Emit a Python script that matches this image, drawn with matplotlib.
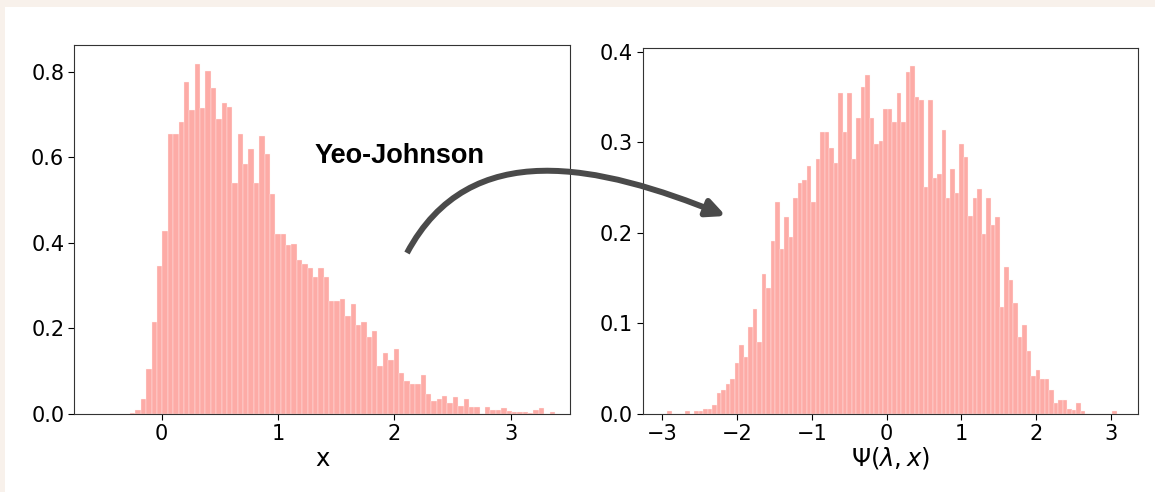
import numpy as np
import matplotlib
matplotlib.use('Agg')
import matplotlib.pyplot as plt
from matplotlib.patches import Rectangle, FancyArrowPatch
from matplotlib.path import Path

# left histogram: skewed x (density per bin), bins start at left_start
left_start = -0.270
left_width = 0.0462
left_density = [0.003, 0.009, 0.034, 0.104, 0.215, 0.345, 0.428, 0.654, 0.654, 0.683,
                0.775, 0.710, 0.818, 0.715, 0.801, 0.762, 0.689, 0.727, 0.717, 0.540,
                0.654, 0.583, 0.619, 0.540, 0.650, 0.607, 0.515, 0.420, 0.420, 0.394,
                0.398, 0.359, 0.350, 0.342, 0.320, 0.341, 0.320, 0.264, 0.264, 0.268,
                0.229, 0.258, 0.208, 0.216, 0.180, 0.194, 0.112, 0.143, 0.125, 0.152,
                0.095, 0.078, 0.069, 0.069, 0.091, 0.047, 0.030, 0.034, 0.043, 0.025,
                0.039, 0.018, 0.034, 0.017, 0.017, 0.000, 0.017, 0.010, 0.010, 0.013,
                0.008, 0.004, 0.004, 0.004, 0.002, 0.009, 0.014, 0.000, 0.004]

# right histogram: after Yeo-Johnson transform
right_start = -2.933
right_width = 0.0601
right_density = [0.003, 0.000, 0.000, 0.000, 0.003, 0.000, 0.003, 0.003,
                 0.005, 0.006, 0.010, 0.023, 0.026, 0.033, 0.039, 0.056, 0.076, 0.063,
                 0.096, 0.116, 0.079, 0.155, 0.139, 0.191, 0.234, 0.182, 0.218, 0.195,
                 0.238, 0.255, 0.258, 0.274, 0.234, 0.281, 0.311, 0.311, 0.294, 0.277,
                 0.354, 0.311, 0.354, 0.281, 0.327, 0.361, 0.374, 0.327, 0.298, 0.301,
                 0.337, 0.337, 0.322, 0.354, 0.322, 0.377, 0.384, 0.350, 0.347, 0.251,
                 0.347, 0.261, 0.265, 0.314, 0.238, 0.271, 0.244, 0.298, 0.284, 0.219,
                 0.238, 0.248, 0.199, 0.238, 0.209, 0.218, 0.118, 0.162, 0.148, 0.122,
                 0.085, 0.098, 0.069, 0.042, 0.049, 0.039, 0.039, 0.026, 0.012, 0.016,
                 0.016, 0.006, 0.004, 0.012, 0.003, 0.000, 0.000, 0.000, 0.000, 0.000,
                 0.000, 0.003]

left_xticks = [0, 1, 2, 3]
left_yticks = [0.0, 0.2, 0.4, 0.6, 0.8]
right_xticks = [-3, -2, -1, 0, 1, 2, 3]
right_yticks = [0.0, 0.1, 0.2, 0.3, 0.4]

W, H = 1155, 492
BAR = '#FDABA6'

fig = plt.figure(figsize=(W / 100, H / 100), dpi=100)
fig.patch.set_facecolor('#F8F1EB')
fig.add_artist(Rectangle((5 / W, 0), 1, (H - 7) / H, transform=fig.transFigure,
                         facecolor='white', edgecolor='none', zorder=-5))


def px_axes(x0, x1, y0, y1):
    # axes box given in image pixels (y from top)
    return fig.add_axes([x0 / W, (H - y1) / H, (x1 - x0) / W, (y1 - y0) / H])


def draw_hist(ax, start, width, dens):
    edges = start + width * np.arange(len(dens))
    ax.bar(edges, dens, width=width, align='edge', color=BAR,
           edgecolor='#FFF4F3', linewidth=0.25)


ax1 = px_axes(74, 570, 45, 414)
draw_hist(ax1, left_start, left_width, left_density)
ax1.set_xlim(-0.752, 3.509)
ax1.set_ylim(0, 0.862)
ax1.set_xticks(left_xticks)
ax1.set_yticks(left_yticks)
ax1.set_xlabel('x', fontsize=17.5, labelpad=2)

ax2 = px_axes(642.6, 1137.7, 48.3, 414)
draw_hist(ax2, right_start, right_width, right_density)
ax2.set_xlim(-3.263, 3.356)
ax2.set_ylim(0, 0.4037)
ax2.set_xticks(right_xticks)
ax2.set_yticks(right_yticks)
ax2.set_xlabel(r'$\Psi(\lambda, x)$', fontsize=17.5, labelpad=1)

for ax in (ax1, ax2):
    ax.tick_params(labelsize=15, length=4, pad=3)
    for s in ax.spines.values():
        s.set_color('#333333')

fig.text(314.5 / W, (H - 163) / H, 'Yeo-Johnson', fontsize=19.5, fontweight='bold',
         family='Liberation Sans', ha='left', va='baseline')

# curved arrow between the panels, in figure pixels
pts = [(407, 253), (470, 135), (600, 165), (726, 216)]
verts = [(x / W, (H - y) / H) for x, y in pts]
path = Path(verts, [Path.MOVETO, Path.CURVE4, Path.CURVE4, Path.CURVE4])
arrow = FancyArrowPatch(path=path, arrowstyle='-|>,head_length=0.55,head_width=0.26',
                        mutation_scale=20, color='#4a4a4a', lw=4.3,
                        transform=fig.transFigure, capstyle='butt')
fig.add_artist(arrow)

fig.savefig('out.png', dpi=100)
